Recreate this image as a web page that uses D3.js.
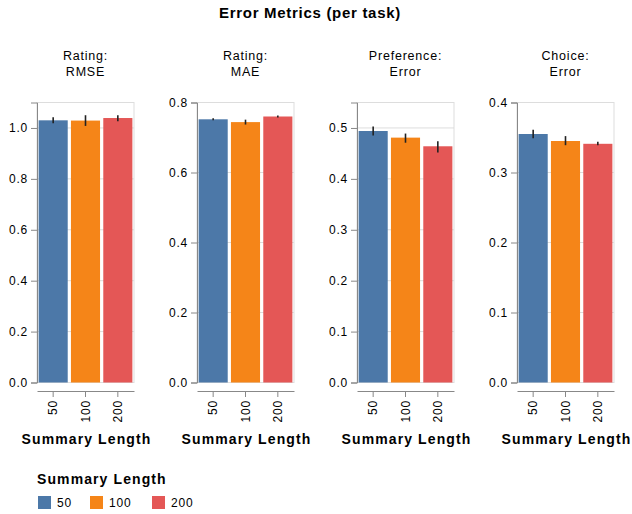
<!DOCTYPE html>
<html><head><meta charset="utf-8">
<script src="https://cdn.jsdelivr.net/npm/d3@7"></script>
<style>
body{margin:0;background:#fff;}
text{font-family:"Liberation Sans",Arial,sans-serif;}
</style></head>
<body><svg id="c" width="632" height="514"></svg>
<script>
const lengths = ["50", "100", "200"];
const colors = ["#4c78a8", "#f58518", "#e45756"];
const headerLine1 = ["Rating:", "Rating:", "Preference:", "Choice:"];
const headerLine2 = ["RMSE", "MAE", "Error", "Error"];
const yMax = [1.1, 0.8, 0.55, 0.4];
const yTicks = [
  [0, 0.2, 0.4, 0.6, 0.8, 1.0],
  [0, 0.2, 0.4, 0.6, 0.8],
  [0, 0.1, 0.2, 0.3, 0.4, 0.5],
  [0, 0.1, 0.2, 0.3, 0.4]
];
const rmseMean = [1.030, 1.029, 1.039];
const rmseLo = [1.018, 1.008, 1.026];
const rmseHi = [1.042, 1.050, 1.050];
const maeMean = [0.752, 0.744, 0.760];
const maeLo = [0.749, 0.737, 0.757];
const maeHi = [0.755, 0.751, 0.763];
const prefMean = [0.494, 0.481, 0.464];
const prefLo = [0.485, 0.471, 0.452];
const prefHi = [0.503, 0.489, 0.474];
const choiceMean = [0.355, 0.345, 0.341];
const choiceLo = [0.349, 0.339, 0.339];
const choiceHi = [0.361, 0.352, 0.344];

const means = [rmseMean, maeMean, prefMean, choiceMean];
const los = [rmseLo, maeLo, prefLo, choiceLo];
const his = [rmseHi, maeHi, prefHi, choiceHi];

(function draw() {
const svg = d3.select("#c");
const plotTop = 102.5, H = 280, W = 97, left0 = 37, gap = 160;

svg.append("text").attr("x", 310).attr("y", 18).attr("text-anchor", "middle")
  .style("font-size", "15px").style("font-weight", "bold").style("letter-spacing", "0.7px")
  .attr("fill", "#000").text("Error Metrics (per task)");

for (let p = 0; p < 4; p++) {
  const x0 = left0 + p * gap;
  const g = svg.append("g").attr("transform", `translate(${x0},${plotTop})`);
  const x = d3.scaleBand().domain(lengths).range([0, W]).paddingInner(0.1).paddingOuter(0.05);
  const y = d3.scaleLinear().domain([0, yMax[p]]).range([H, 0]);

  const hx = x0 + W / 2;
  svg.append("text").attr("x", hx).attr("y", 60).attr("text-anchor", "middle")
    .style("font-size", "12.5px").style("letter-spacing", "0.8px").attr("fill", "#000").text(headerLine1[p]);
  svg.append("text").attr("x", hx).attr("y", 76).attr("text-anchor", "middle")
    .style("font-size", "12.5px").style("letter-spacing", "0.8px").attr("fill", "#000").text(headerLine2[p]);

  g.selectAll("line.grid").data(yTicks[p]).join("line").attr("class", "grid")
    .attr("x1", 0).attr("x2", W).attr("y1", d => y(d)).attr("y2", d => y(d))
    .attr("stroke", "#ddd").attr("stroke-width", 1);
  g.append("rect").attr("x", 0).attr("y", 0).attr("width", W).attr("height", H)
    .attr("fill", "none").attr("stroke", "#ddd");

  g.selectAll("rect.bar").data(lengths).join("rect").attr("class", "bar")
    .attr("x", d => x(d)).attr("width", x.bandwidth())
    .attr("y", (d, i) => y(means[p][i])).attr("height", (d, i) => H - y(means[p][i]))
    .attr("fill", (d, i) => colors[i]);

  g.selectAll("line.err").data(lengths).join("line").attr("class", "err")
    .attr("x1", d => x(d) + x.bandwidth() / 2).attr("x2", d => x(d) + x.bandwidth() / 2)
    .attr("y1", (d, i) => y(los[p][i])).attr("y2", (d, i) => y(his[p][i]))
    .attr("stroke", "#222").attr("stroke-width", 1.6);

  const ya = g.append("g").call(d3.axisLeft(y).tickValues(yTicks[p]).tickFormat(d3.format(".1f")).tickSize(6).tickPadding(3));
  ya.select(".domain").attr("stroke", "#888");
  ya.selectAll(".tick line").attr("stroke", "#888");
  ya.selectAll(".tick text").style("font-size", "12px").style("letter-spacing", "0.8px").attr("fill", "#000")
    .style("font-family", "'Liberation Sans',Arial,sans-serif");

  const xa = g.append("g").attr("transform", `translate(0,${H + 8.5})`)
    .call(d3.axisBottom(x).tickSize(6).tickSizeOuter(0));
  xa.select(".domain").attr("stroke", "#888");
  xa.selectAll(".tick line").attr("stroke", "#888");
  xa.selectAll(".tick text").style("font-size", "12px").style("letter-spacing", "0.8px").attr("fill", "#000")
    .style("font-family", "'Liberation Sans',Arial,sans-serif")
    .attr("text-anchor", "end").attr("transform", "rotate(-90)")
    .attr("x", -9).attr("y", 0).attr("dy", "0.35em");

  svg.append("text").attr("x", hx + 1).attr("y", 444).attr("text-anchor", "middle")
    .style("font-size", "14px").style("font-weight", "bold").style("letter-spacing", "1.1px")
    .attr("fill", "#000").text("Summary Length");
}

svg.append("text").attr("x", 37).attr("y", 484)
  .style("font-size", "14px").style("font-weight", "bold").style("letter-spacing", "1.1px")
  .attr("fill", "#000").text("Summary Length");
const legX = [38, 90, 152];
const lg = svg.selectAll("g.leg").data(lengths).join("g").attr("class", "leg")
  .attr("transform", (d, i) => `translate(${legX[i]},496)`);
lg.append("rect").attr("width", 13).attr("height", 13).attr("fill", (d, i) => colors[i]);
lg.append("text").attr("x", 19).attr("y", 11).style("font-size", "12px").style("letter-spacing", "0.8px")
  .attr("fill", "#000").text(d => d);
})();
</script></body></html>
